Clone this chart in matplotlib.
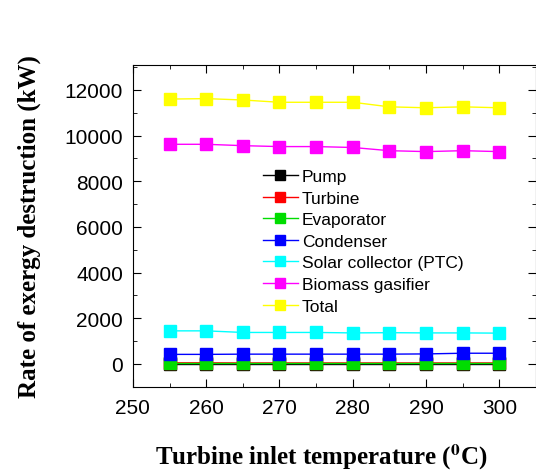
import numpy as np
import matplotlib
matplotlib.use("Agg")
import matplotlib.pyplot as plt
from matplotlib.ticker import MultipleLocator

# turbine inlet temperature (C)
temps = [255, 260, 265, 270, 275, 280, 285, 290, 295, 300]

pump = [10, 10, 10, 10, 10, 10, 10, 10, 10, 10]
turbine = [50, 50, 45, 45, 45, 45, 45, 45, 45, 45]
evaporator = [30, 30, 30, 30, 30, 30, 30, 30, 30, 30]
condenser = [420, 420, 430, 430, 430, 430, 430, 440, 470, 470]
solar = [1450, 1450, 1380, 1380, 1380, 1360, 1370, 1360, 1360, 1350]
biomass = [9620, 9620, 9560, 9520, 9520, 9480, 9340, 9300, 9340, 9300]
total = [11600, 11620, 11560, 11460, 11460, 11460, 11260, 11220, 11260, 11220]

series = [
    ("Pump", pump, "black"),
    ("Turbine", turbine, "red"),
    ("Evaporator", evaporator, "#00dd00"),
    ("Condenser", condenser, "blue"),
    ("Solar collector (PTC)", solar, "cyan"),
    ("Biomass gasifier", biomass, "magenta"),
    ("Total", total, "yellow"),
]

plt.rcParams["font.family"] = ["Liberation Sans", "DejaVu Sans"]
plt.rcParams["mathtext.fontset"] = "stix"

fig = plt.figure(figsize=(5.36, 4.77), dpi=100)
ax = fig.add_axes([0.248, 0.187, 0.752, 0.675])

for name, vals, col in series:
    ax.plot(temps, vals, color=col, marker="s", markersize=8.5, linewidth=1.0,
            label=name)

ax.set_xlim(250, 305)
ax.set_ylim(-1000, 13100)
ax.xaxis.set_major_locator(MultipleLocator(10))
ax.xaxis.set_minor_locator(MultipleLocator(5))
ax.yaxis.set_major_locator(MultipleLocator(2000))
ax.yaxis.set_minor_locator(MultipleLocator(1000))
ax.tick_params(which="both", direction="in", top=True, right=True,
               labeltop=False, labelright=False)
ax.tick_params(which="major", length=6, labelsize=15)
ax.tick_params(which="minor", length=3)
ax.tick_params(axis="x", pad=8)
ax.tick_params(axis="y", pad=7)

ax.set_xlabel(r"Turbine inlet temperature ($^{\mathbf{0}}$C)",
              family="Liberation Serif", fontweight="bold", fontsize=18)
ax.set_ylabel("Rate of exergy destruction (kW)", family="Liberation Serif",
              fontweight="bold", fontsize=18)
ax.xaxis.set_label_coords(0.467, -0.17)
ax.yaxis.set_label_coords(-0.228, 0.5)

ax.legend(loc="upper left", bbox_to_anchor=(0.305, 0.698), frameon=False,
          prop={"size": 12.5}, handlelength=2.0, markerscale=0.8,
          labelspacing=0.37, handletextpad=0.25, borderaxespad=0)

fig.savefig("out.png", dpi=100)
